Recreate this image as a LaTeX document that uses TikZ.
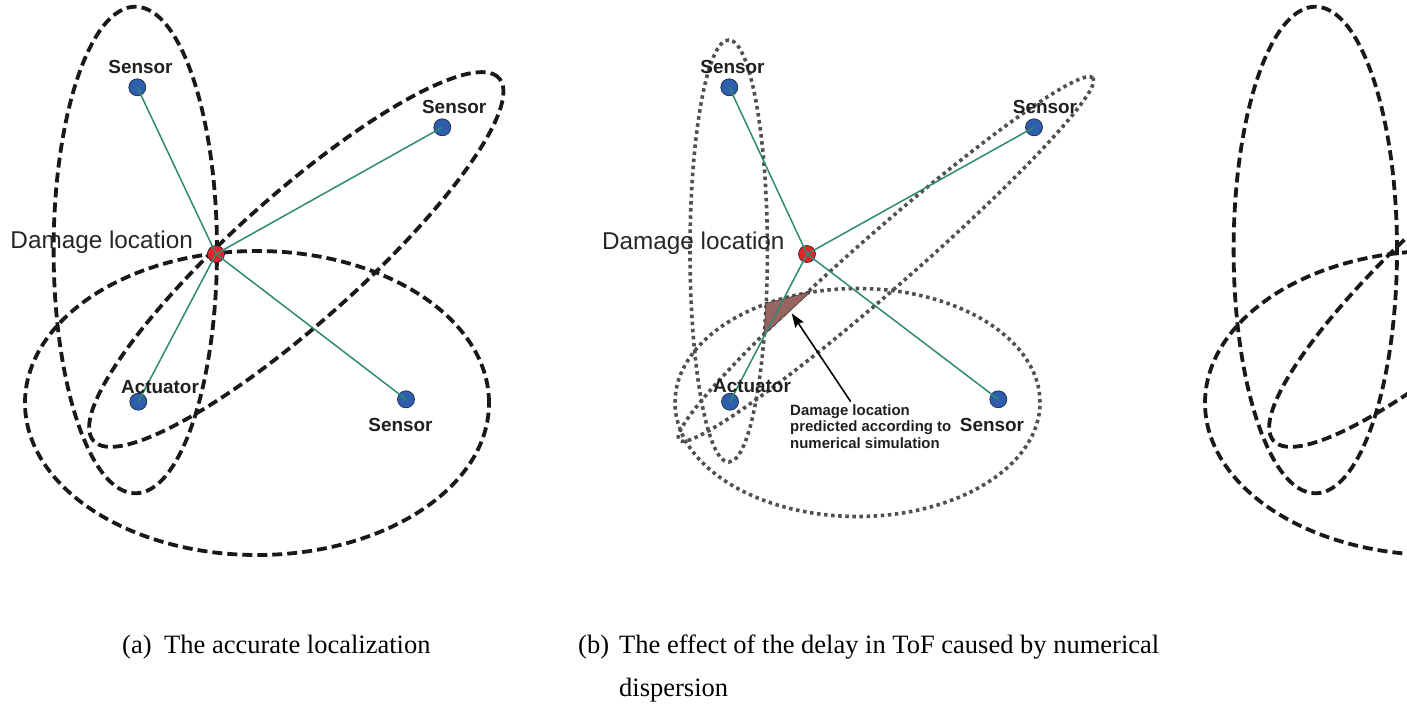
\documentclass[tikz,border=0pt]{standalone}
\usepackage{fontspec}
\setmainfont{Liberation Serif}
\newfontfamily\arialf{Liberation Sans}
\usetikzlibrary{arrows.meta}
\definecolor{dotblue}{RGB}{45,95,172}
\definecolor{dotedge}{RGB}{30,40,70}
\definecolor{dmgred}{RGB}{232,35,40}
\definecolor{linkgreen}{RGB}{46,138,112}
\definecolor{dashblack}{RGB}{25,25,25}
\definecolor{dotgray}{RGB}{80,80,80}
\definecolor{regionfill}{RGB}{152,100,95}
\newcommand\drawAells{%
  \draw[dashell] (135.3,250) ellipse [x radius=81.7bp, y radius=243.3bp];
  \draw[dashell, shift={(296.3,259.5)}, rotate=41.8] (0,0) ellipse [x radius=272bp, y radius=63.4bp];
  \draw[dashell] (257,403) ellipse [x radius=232bp, y radius=152bp];
}
\begin{document}
\begin{tikzpicture}[x=1bp,y=-1bp,
  dashell/.style={draw=dashblack, line width=3.8bp, dash pattern=on 10bp off 5bp},
  dotell/.style={draw=dotgray, line width=3.6bp, dash pattern=on 3.5bp off 3.6bp},
  sdot/.style={circle, fill=dotblue, draw=dotedge, line width=0.7bp, minimum size=17bp, inner sep=0pt},
  ddot/.style={sdot, fill=dmgred},
  link/.style={draw=linkgreen, line width=1.5bp},
  lbl/.style={inner sep=0pt, anchor=base, text=black!88, font=\arialf\bfseries\fontsize{19}{21}\selectfont},
  biglbl/.style={inner sep=0pt, anchor=base, text=black!85, font=\arialf\fontsize{24.4}{28}\selectfont},
  note/.style={inner sep=0pt, anchor=base west, text=black!88, font=\arialf\bfseries\fontsize{15}{17}\selectfont},
  captext/.style={inner sep=0pt, anchor=base west, font=\fontsize{26.6}{43}\selectfont},
]
\useasboundingbox (0,0) rectangle (1407,704);

% ---------- panel (a) ----------
\drawAells
\node[sdot] (as1) at (137.3,87.3) {};
\node[sdot] (as2) at (442.3,127.3) {};
\node[ddot] (ad) at (216,254) {};
\node[sdot] (aact) at (138.3,401.7) {};
\node[sdot] (as3) at (406,399.3) {};
\draw[link] (ad.center) -- (as1.center);
\draw[link] (ad.center) -- (as2.center);
\draw[link] (ad.center) -- (aact.center);
\draw[link] (ad.center) -- (as3.center);
\node[lbl] (als1) at (140.5,73.3) {Sensor};
\node[lbl] (als2) at (454.2,113.3) {Sensor};
\node[lbl] (alact) at (160,393.3) {Actuator};
\node[lbl] (als3) at (400.5,431.7) {Sensor};
\node[biglbl] (aldmg) at (101.7,248.3) {Damage location};

% ---------- panel (b) ----------
\draw[dotell] (728.7,251) ellipse [x radius=38.7bp, y radius=211bp];
\draw[dotell, shift={(886,259)}, rotate=41.2] (0,0) ellipse [x radius=275bp, y radius=28bp];
\draw[dotell] (857.5,402.5) ellipse [x radius=182.5bp, y radius=114bp];
\filldraw[fill=regionfill, draw=black!80, line width=0.5bp] (766,303.3) -- (810.7,291.7) -- (764,335) -- cycle;
\node[sdot] (bs1) at (729.3,87.3) {};
\node[sdot] (bs2) at (1034,127.3) {};
\node[ddot] (bd) at (807,254) {};
\node[sdot] (bact) at (730,401.7) {};
\node[sdot] (bs3) at (998.3,399.3) {};
\draw[link] (bd.center) -- (bs1.center);
\draw[link] (bd.center) -- (bs2.center);
\draw[link] (bd.center) -- (bact.center);
\draw[link] (bd.center) -- (bs3.center);
\coordinate (tail) at (850.7,401.7);
\coordinate (tip) at (791.7,313.3);
\draw[black, line width=1.6bp, -{Stealth[length=14bp, width=10bp, inset=2bp]}] (tail) -- (tip);
\node[lbl] (bls1) at (732.5,73.3) {Sensor};
\node[lbl] (bls2) at (1045,113.3) {Sensor};
\node[lbl] (blact) at (752,392.7) {Actuator};
\node[lbl] (bls3) at (992,431) {Sensor};
\node[biglbl] (bldmg) at (693.3,249) {Damage location};
\node[note] (n1) at (790,415) {Damage location};
\node[note] (n2) at (790,431.7) {predicted according to};
\node[note] (n3) at (790,448.3) {numerical simulation};

% ---------- panel (c), cut by the right edge ----------
\begin{scope}
  \clip (0,0) rectangle (1407,704);
  \begin{scope}[xshift=1180bp]
    \drawAells
  \end{scope}
\end{scope}

% ---------- captions ----------
\node[captext] (capal) at (122,653) {(a)};
\node[captext] (capa) at (164,653) {The accurate localization};
\node[captext] (capbl) at (578,653) {(b)};
\node[captext] (capb) at (619,653) {The effect of the delay in ToF caused by numerical};
\node[captext] (capb2) at (619,696) {dispersion};
\end{tikzpicture}
\end{document}
